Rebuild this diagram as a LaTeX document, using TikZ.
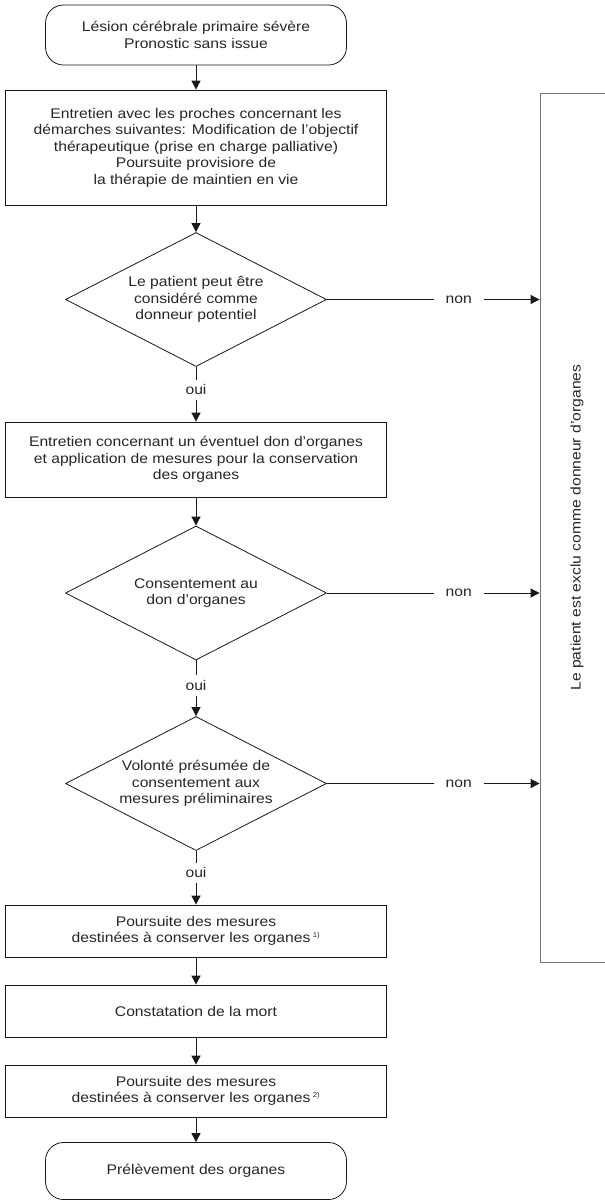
\documentclass[tikz,border=0pt]{standalone}
\usepackage{fontspec}
\setmainfont{Liberation Sans}[FakeStretch=1.12]
\usetikzlibrary{shapes.geometric,arrows.meta}

\begin{document}
\begin{tikzpicture}
    [
        x=1pt, y=-1pt,
        every node/.style={font=\fontsize{14}{16.5}\selectfont, text=black!85},
        box/.style={rectangle, draw=black!90, line width=0.8pt, minimum width=381pt, align=center, inner sep=0pt,},
        term/.style={box, rounded corners=18pt, minimum width=301pt,},
        test/.style={diamond, draw=black!90, line width=0.8pt, minimum width=261pt, minimum height=134pt, inner xsep=-40pt, inner ysep=-20pt, align=center,},
        excl/.style={rectangle, draw=black!55, line width=0.8pt, minimum width=74pt, minimum height=869pt, inner sep=0pt,},
        edge/.style={-{Triangle[length=9pt,width=9pt]}, line width=0.8pt, draw=black!90,},
        cut/.style={fill=white, inner xsep=3pt, inner ysep=5pt,},
        nocut/.style={cut, inner xsep=12pt, pos=0.62,},
    ]

    \clip (0,0) rectangle (605,1203);

    % main column
    \node (start) at (196,35)    [term, minimum height=60pt] {Lésion cérébrale primaire sévère\\Pronostic sans issue};
    \node (talk)  at (196,147.5) [box, minimum height=115pt] {Entretien avec les proches concernant les\\démarches suivantes: Modification de l’objectif\\thérapeutique (prise en charge palliative)\\Poursuite provisiore de\\la thérapie de maintien en vie};
    \node (q1)    at (196,299.5) [test] {Le patient peut être\\considéré comme\\donneur potentiel};
    \node (don)   at (196,459.5) [box, minimum height=75pt] {Entretien concernant un éventuel don d’organes\\et application de mesures pour la conservation\\des organes};
    \node (q2)    at (196,593)   [test] {Consentement au\\don d’organes};
    \node (q3)    at (196,783.5) [test] {Volonté présumée de\\consentement aux\\mesures préliminaires};
    \node (keep1) at (196,931)   [box, minimum height=52pt] {Poursuite des mesures\\destinées à conserver les organes\,\textsuperscript{\scriptsize 1)}};
    \node (death) at (196,1011)  [box, minimum height=52pt] {Constatation de la mort};
    \node (keep2) at (196,1091)  [box, minimum height=52pt] {Poursuite des mesures\\destinées à conserver les organes\,\textsuperscript{\scriptsize 2)}};
    \node (take)  at (196,1171)  [term, minimum height=57pt] {Prélèvement des organes};

    % exclusion
    \node (out)   at (577,527.5) [excl] {\rotatebox{90}{Le patient est exclu comme donneur d’organes}};

    \draw [edge] (start) -- (talk);
    \draw [edge] (talk) -- (q1);
    \draw [edge] (q1) -- node [cut, pos=0.42] {oui} (don);
    \draw [edge] (don) -- (q2);
    \draw [edge] (q2) -- node [cut, pos=0.45] {oui} (q3);
    \draw [edge] (q3) -- node [cut, pos=0.41] {oui} (keep1);
    \draw [edge] (keep1) -- (death);
    \draw [edge] (death) -- (keep2);
    \draw [edge] (keep2) -- (take);
    \draw [edge] (q1) -- node [nocut] {non} (q1 -| out.west);
    \draw [edge] (q2) -- node [nocut] {non} (q2 -| out.west);
    \draw [edge] (q3) -- node [nocut] {non} (q3 -| out.west);

\end{tikzpicture}
\end{document}
